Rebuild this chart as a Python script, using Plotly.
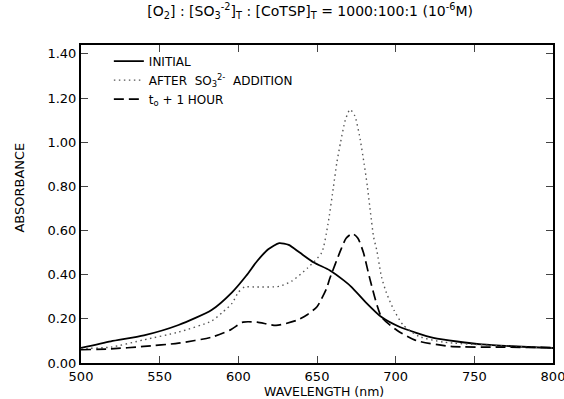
import plotly.graph_objects as go

# INITIAL
wl_init = [500, 519, 540, 562, 583, 596, 605, 612, 619, 626, 632, 639, 648, 658, 667, 672, 681, 691, 703, 724, 755, 800]
ab_init = [0.068, 0.098, 0.125, 0.172, 0.240, 0.320, 0.395, 0.462, 0.515, 0.543, 0.535, 0.500, 0.455, 0.420, 0.374, 0.344, 0.275, 0.208, 0.162, 0.114, 0.084, 0.068]

# AFTER SO3 2- ADDITION
wl_after = [500, 519, 540, 562, 583, 590, 596, 600, 604, 612, 626, 634, 644, 653, 657, 660.5, 662.5, 665, 668, 671, 674, 677, 680, 682, 684, 686, 688, 691, 694, 699, 705, 715, 730, 760, 800]
ab_after = [0.065, 0.072, 0.105, 0.140, 0.190, 0.230, 0.270, 0.320, 0.344, 0.344, 0.347, 0.371, 0.430, 0.500, 0.630, 0.800, 0.903, 1.000, 1.100, 1.148, 1.120, 1.030, 0.900, 0.800, 0.680, 0.570, 0.510, 0.390, 0.320, 0.238, 0.170, 0.120, 0.095, 0.080, 0.068]

# t0 + 1 HOUR
wl_hour = [500, 519, 540, 562, 583, 595, 603, 612, 624, 637, 644, 650, 656, 658, 665, 668.5, 672.5, 676, 679.5, 684, 691, 701, 713, 735, 766, 800]
ab_hour = [0.060, 0.064, 0.075, 0.090, 0.117, 0.150, 0.185, 0.185, 0.170, 0.193, 0.220, 0.255, 0.336, 0.380, 0.510, 0.565, 0.586, 0.565, 0.500, 0.370, 0.208, 0.147, 0.102, 0.075, 0.072, 0.070]

x_ticks = [500, 550, 600, 650, 700, 750, 800]
y_ticks = [0.0, 0.2, 0.4, 0.6, 0.8, 1.0, 1.2, 1.4]
y_tick_labels = ["0.00", "0.20", "0.40", "0.60", "0.80", "1.00", "1.20", "1.40"]

FONT = "DejaVu Sans, Verdana, sans-serif"

fig = go.Figure()
fig.add_trace(go.Scatter(x=wl_init, y=ab_init, mode="lines", name="INITIAL",
                         line=dict(color="black", width=1.8, shape="spline", smoothing=0.6)))
fig.add_trace(go.Scatter(x=wl_after, y=ab_after, mode="lines",
                         name="AFTER  SO<sub>3</sub><sup>2-</sup>  ADDITION",
                         line=dict(color="#555555", width=1.4, dash="1.5px,3.5px", shape="spline", smoothing=0.6)))
fig.add_trace(go.Scatter(x=wl_hour, y=ab_hour, mode="lines", name="t<sub>o</sub> + 1 HOUR",
                         line=dict(color="black", width=1.7, dash="10px,5px", shape="spline", smoothing=0.6)))

fig.update_layout(
    width=564, height=399,
    margin=dict(l=81, r=11, t=45, b=36, autoexpand=False),
    paper_bgcolor="white", plot_bgcolor="white",
    font=dict(family=FONT, color="black", size=12),
    showlegend=True,
    legend=dict(x=0.059, y=0.995, xanchor="left", yanchor="top",
                bgcolor="rgba(0,0,0,0)", font=dict(size=12, family=FONT),
                tracegroupgap=0, itemwidth=30),
    title=dict(text="[O<sub>2</sub>] : [SO<sub>3</sub><sup>-2</sup>]<sub>T</sub> : [CoTSP]<sub>T</sub> = 1000:100:1 (10<sup>-6</sup>M)",
               x=0.55, xanchor="center", y=0.985, yanchor="top",
               font=dict(size=14, family=FONT)),
    annotations=[
        dict(text="WAVELENGTH (nm)", xref="paper", yref="paper", x=0.515, y=0,
             xanchor="center", yanchor="middle", yshift=-28.5, showarrow=False,
             font=dict(size=12.5, family=FONT)),
        dict(text="ABSORBANCE", xref="paper", yref="paper", x=0, y=0.55,
             xanchor="center", yanchor="middle", xshift=-61.5, textangle=-90, showarrow=False,
             font=dict(size=13, family=FONT)),
    ],
)
fig.update_xaxes(range=[500, 800], tickvals=x_ticks, ticks="inside", ticklen=7, tickwidth=1.3,
                 showline=True, linecolor="black", linewidth=2, mirror="ticks",
                 showgrid=False, zeroline=False, automargin=False,
                 ticklabeloverflow="allow", tickfont=dict(size=13))
fig.update_yaxes(range=[0, 1.44], tickvals=y_ticks, ticktext=y_tick_labels, ticks="inside", ticklen=7,
                 tickwidth=1.3, showline=True, linecolor="black", linewidth=2, mirror="ticks",
                 showgrid=False, zeroline=False, automargin=False,
                 ticklabeloverflow="allow", tickfont=dict(size=13))

fig.write_html("out.html", config={"displayModeBar": False},
               post_script="document.body.style.margin='0';document.body.style.overflow='hidden';")
